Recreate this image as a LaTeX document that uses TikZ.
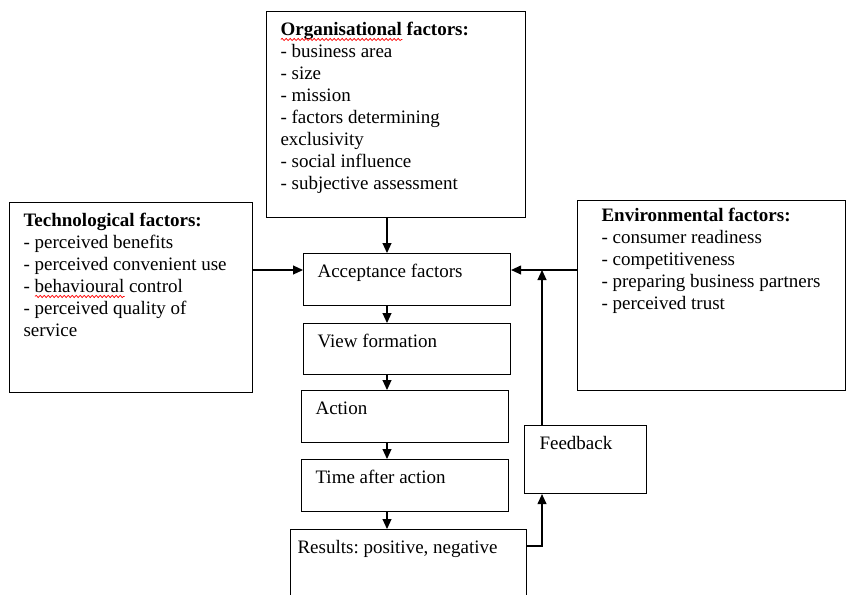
\documentclass[tikz,border=0pt]{standalone}
\usepackage{fontspec}
\setmainfont{Liberation Serif}
\usepackage{xcolor}
\usepackage{tikz}
\usetikzlibrary{arrows.meta,calc,decorations.pathmorphing}
\frenchspacing
\newsavebox{\errbox}
\newcommand{\blocktext}[3]{\parbox[c][#1][t]{#2}{\raggedright\strut #3}}
\newcommand{\spellerr}[1]{\sbox{\errbox}{#1}\rlap{\usebox{\errbox}}\rlap{\tikz[baseline=0pt]\draw[red,line width=0.7pt,decorate,decoration={snake,amplitude=1.1pt,segment length=4pt}] (0pt,-4pt) -- (\wd\errbox,-4pt);}\hspace{\wd\errbox}}
\tikzset{
  ar/.style={-{Triangle[length=10pt,width=9pt]},line width=1.1pt},
  box/.style={draw,line width=1.1pt,anchor=north west,inner xsep=14pt,inner ysep=8.5pt,font=\fontsize{19}{22}\selectfont}
}
\begin{document}
\begin{tikzpicture}[x=1pt,y=-1pt]
\useasboundingbox (0,0) rectangle (847,595);
% factor boxes
\node[box] (org) at (266,11) {\blocktext{189pt}{231pt}{\textbf{\spellerr{Organisational} factors:}\\
- business area\\ - size\\ - mission\\ - factors determining\\ exclusivity\\ - social influence\\ - subjective assessment}};
\node[box] (tech) at (9,202) {\blocktext{173pt}{215pt}{\textbf{Technological factors:}\\
- perceived benefits\\ - perceived convenient use\\ - \spellerr{behavioural} control\\ - perceived quality of\\ service}};
\node[box,inner ysep=5.5pt] (env) at (577,200) {\blocktext{179pt}{240pt}{\leftskip10pt\textbf{Environmental factors:}\\
- consumer readiness\\ - competitiveness\\ - preparing business partners\\ - perceived trust}};
% process chain
\node[box] (accept) at (303,253) {\blocktext{35pt}{179pt}{Acceptance factors}};
\node[box] (view) at (303,323) {\blocktext{34pt}{179pt}{View formation}};
\node[box] (act) at (301,390) {\blocktext{35pt}{179pt}{Action}};
\node[box] (time) at (301,459) {\blocktext{35pt}{179pt}{Time after action}};
\node[box,inner xsep=7pt] (res) at (290,529) {\blocktext{55pt}{222pt}{Results: positive, negative}};
\node[box,inner xsep=15pt] (fb) at (524,425) {\blocktext{51pt}{92pt}{Feedback}};
% helper lines
\coordinate (spine) at (387,0);
\coordinate (inrow) at (0,270);
\coordinate (fbcol) at (542,0);
\coordinate (fbrow) at (0,546);
\draw[ar] (org.south -| spine) -- (accept.north -| spine);
\draw[ar] (accept.south -| spine) -- (view.north -| spine);
\draw[ar] (view.south -| spine) -- (act.north -| spine);
\draw[ar] (act.south -| spine) -- (time.north -| spine);
\draw[ar] (time.south -| spine) -- (res.north -| spine);
\draw[ar] (tech.east |- inrow) -- (accept.west |- inrow);
\draw[ar] (env.west |- inrow) -- (accept.east |- inrow);
\draw[ar] (res.east |- fbrow) -| (fb.south -| fbcol);
\draw[ar] (fb.north -| fbcol) -- (fbcol |- inrow);
\end{tikzpicture}
\end{document}
